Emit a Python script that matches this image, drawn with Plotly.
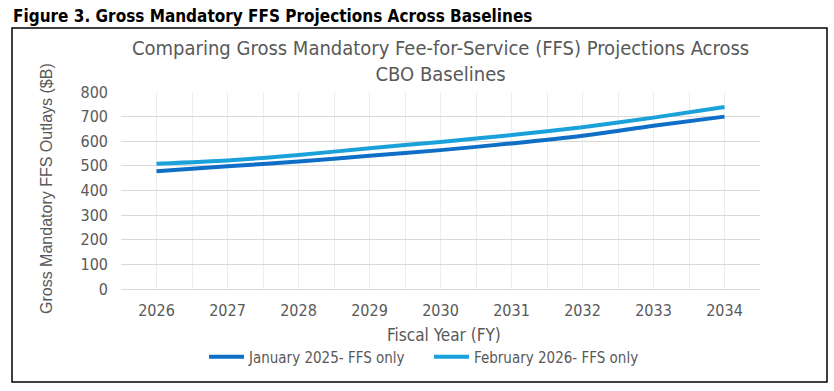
import plotly.graph_objects as go

years = [2026, 2027, 2028, 2029, 2030, 2031, 2032, 2033, 2034]
jan_2025 = [478, 498, 518, 541, 564, 591, 622, 663, 700]
feb_2026 = [509, 522, 544, 572, 597, 625, 657, 696, 739]
series_names = ["January 2025- FFS only", "February 2026- FFS only"]
y_ticks = [0, 100, 200, 300, 400, 500, 600, 700, 800]

NARROW = "DejaVu Sans Condensed, Liberation Sans Narrow, Arial Narrow, sans-serif"
GRAY = "#595959"

W, H = 834, 391
L, R, T, B = 121, 74, 92, 102
pw, ph = W - L - R, H - T - B

def px(x):
    return (x - L) / pw

def py(y):
    return (H - B - y) / ph

fig = go.Figure()
fig.add_trace(go.Scatter(x=years, y=jan_2025, name=series_names[0], mode="lines",
                         line=dict(color="#0F6FC6", width=4, shape="spline", smoothing=0.6)))
fig.add_trace(go.Scatter(x=years, y=feb_2026, name=series_names[1], mode="lines",
                         line=dict(color="#1BA1D9", width=4, shape="spline", smoothing=0.6)))

fig.update_layout(
    width=W, height=H,
    margin=dict(l=L, r=R, t=T, b=B),
    paper_bgcolor="white", plot_bgcolor="white",
    font=dict(family=NARROW, color=GRAY, size=15),
    showlegend=True,
    legend=dict(orientation="h", x=px(204), xanchor="left", y=py(357), yanchor="middle",
                font=dict(family=NARROW, size=15, color=GRAY),
                entrywidth=175, entrywidthmode="pixels", itemwidth=35,
                bgcolor="rgba(0,0,0,0)"),
    xaxis=dict(range=[2025.5, 2034.5], tickmode="array", tickvals=years,
               ticktext=[str(y) for y in years], showgrid=True, gridcolor="#EDEDED",
               gridwidth=1, zeroline=False, showline=True, linecolor="#D9D9D9",
               ticks="", ticklabelstandoff=7,
               minor=dict(dtick=1, tick0=2025.5, showgrid=True, gridcolor="#EDEDED", gridwidth=1),
               tickfont=dict(family=NARROW, size=16, color=GRAY)),
    yaxis=dict(range=[0, 800], tickmode="array", tickvals=y_ticks,
               showgrid=True, gridcolor="#D9D9D9", gridwidth=1, zeroline=False,
               showline=False, ticks="", ticklabelstandoff=12,
               tickfont=dict(family=NARROW, size=16, color=GRAY)),
)

fig.add_annotation(text="<b>Figure 3. Gross Mandatory FFS Projections Across Baselines</b>",
                   xref="paper", yref="paper", x=px(11), y=py(16), xanchor="left", yanchor="middle",
                   showarrow=False, font=dict(family=NARROW, size=17, color="black"))
fig.add_annotation(text="Comparing Gross Mandatory Fee-for-Service (FFS) Projections Across<br>CBO Baselines",
                   xref="paper", yref="paper", x=px(440), y=py(61), xanchor="center", yanchor="middle",
                   showarrow=False, font=dict(family=NARROW, size=20, color=GRAY))
fig.add_annotation(text="Fiscal Year (FY)", xref="paper", yref="paper", x=px(444), y=py(335),
                   xanchor="center", yanchor="middle", showarrow=False,
                   font=dict(family=NARROW, size=17, color=GRAY))
fig.add_annotation(text="Gross Mandatory FFS Outlays ($B)", xref="paper", yref="paper",
                   x=px(46), y=py(189), xanchor="center", yanchor="middle", textangle=-90,
                   showarrow=False, font=dict(family="Liberation Sans, Arial, sans-serif", size=16, color=GRAY))

fig.add_shape(type="rect", xref="paper", yref="paper", x0=px(12), x1=px(827), y0=py(382), y1=py(28),
              line=dict(color="black", width=1.5), fillcolor="rgba(0,0,0,0)", layer="below")

fig.write_html("out.html", config={"displayModeBar": False},
               post_script="document.body.style.margin='0';")
